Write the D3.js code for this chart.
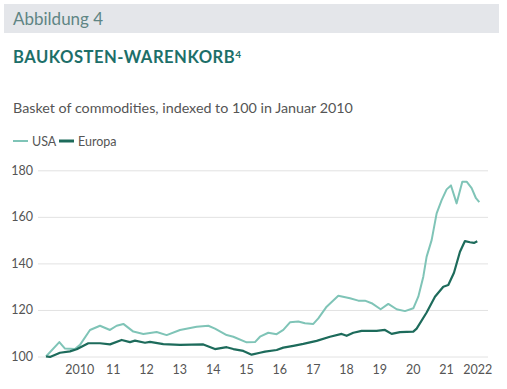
<!DOCTYPE html>
<html>
<head>
<meta charset="utf-8">
<script src="https://cdn.jsdelivr.net/npm/d3@7"></script>
<style>
  body { margin: 0; background: #fff; font-family: Lato, "Open Sans", sans-serif; }
</style>
</head>
<body>
<script>
// Werte (x = Jahresposition, y = Index)
var usaYears = [2009.00, 2009.40, 2009.57, 2009.87, 2010.02, 2010.32, 2010.62, 2010.92, 2011.12, 2011.32,
  2011.62, 2011.92, 2012.32, 2012.62, 2013.02, 2013.52, 2013.87, 2014.07, 2014.42, 2014.62,
  2015.02, 2015.27, 2015.42, 2015.67, 2015.92, 2016.12, 2016.32, 2016.57, 2016.77, 2017.02,
  2017.17, 2017.42, 2017.77, 2018.12, 2018.37, 2018.57, 2018.77, 2019.04, 2019.27, 2019.52,
  2019.77, 2020.02, 2020.17, 2020.32, 2020.42, 2020.57, 2020.72, 2020.87, 2021.02, 2021.15,
  2021.32, 2021.49, 2021.62, 2021.77, 2021.90, 2022.00];
var usaValues = [100, 106.2, 103.4, 103.2, 105, 111.4, 113.2, 111.4, 113.2, 114,
  110.7, 109.7, 110.5, 109.2, 111.4, 112.8, 113.2, 112, 109.2, 108.5,
  106.1, 106.2, 108.5, 110.2, 109.6, 111.4, 114.7, 115, 114.3, 114,
  116.4, 121.4, 126.1, 125, 124, 124, 122.9, 120.3, 122.6, 120.3,
  119.5, 120.7, 125.7, 134.3, 142.9, 150, 161.5, 167.2, 171.8, 173.5,
  165.8, 175.1, 175.1, 172.3, 168, 166.3];

var euYears = [2009.00, 2009.12, 2009.42, 2009.72, 2009.92, 2010.27, 2010.62, 2010.92, 2011.27, 2011.52,
  2011.67, 2011.97, 2012.12, 2012.52, 2013.02, 2013.72, 2014.07, 2014.42, 2014.62, 2014.92,
  2015.17, 2015.42, 2015.57, 2015.92, 2016.12, 2016.42, 2016.72, 2017.12, 2017.52, 2017.87,
  2018.02, 2018.22, 2018.47, 2018.92, 2019.17, 2019.37, 2019.62, 2020.02, 2020.12, 2020.42,
  2020.67, 2020.92, 2021.07, 2021.24, 2021.42, 2021.57, 2021.72, 2021.84, 2021.94];
var euValues = [100, 99.8, 101.6, 102.2, 103.1, 105.7, 105.7, 105.2, 107.1, 106.2,
  106.8, 105.9, 106.3, 105.3, 105, 105.2, 103.2, 104, 103.2, 102.4,
  100.8, 101.6, 102.1, 102.8, 103.8, 104.6, 105.4, 106.7, 108.5, 109.7,
  108.9, 110.2, 111, 111, 111.4, 109.7, 110.5, 110.7, 112, 118.9,
  125.7, 130, 130.7, 136, 145, 149.6, 149.1, 148.8, 149.5];

var tickYears = [2010, 2011, 2012, 2013, 2014, 2015, 2016, 2017, 2018, 2019, 2020, 2021, 2022];
var tickLabels = ["2010", "11", "12", "13", "14", "15", "16", "17", "18", "19", "20", "21", "2022"];
var yTicks = [100, 120, 140, 160, 180];

var W = 507, H = 389;
var usaColor = "#7fc4b7", euColor = "#1d6b5b";

var svg = d3.select("body").append("svg")
  .attr("width", W)
  .attr("height", H);

// Kopfzeile
svg.append("rect")
  .attr("x", 4).attr("y", 4)
  .attr("width", 495).attr("height", 29)
  .attr("fill", "#e4e6ea");
svg.append("text")
  .attr("x", 13).attr("y", 25)
  .attr("font-size", "17px")
  .attr("fill", "#5f8584")
  .text("Abbildung 4");

svg.append("text")
  .attr("x", 13).attr("y", 63)
  .attr("font-size", "16.6px")
  .attr("font-weight", "bold")
  .attr("letter-spacing", "0.5px")
  .attr("fill", "#1d6f69")
  .text("BAUKOSTEN-WARENKORB")
  .append("tspan")
  .attr("dy", -5)
  .attr("font-size", "10px")
  .text("4");

svg.append("text")
  .attr("x", 13).attr("y", 113)
  .attr("font-size", "14.3px")
  .attr("fill", "#555")
  .text("Basket of commodities, indexed to 100 in Januar 2010");

// Legende
var legend = [{name: "USA", color: usaColor, x: 13, w: 2}, {name: "Europa", color: euColor, x: 59, w: 3}];
var lg = svg.selectAll(".lg").data(legend).enter().append("g").attr("class", "lg");
lg.append("line")
  .attr("x1", function (d) { return d.x; })
  .attr("x2", function (d) { return d.x + 15; })
  .attr("y1", 141).attr("y2", 141)
  .attr("stroke", function (d) { return d.color; })
  .attr("stroke-width", function (d) { return d.w; });
lg.append("text")
  .attr("x", function (d) { return d.x + 19; })
  .attr("y", 145.5)
  .attr("font-size", "12.5px")
  .attr("fill", "#555")
  .text(function (d) { return d.name; });

// Skalen
var x = d3.scaleLinear().domain([2009, 2022]).range([46, 479.3]);
var y = d3.scaleLinear().domain([100, 180]).range([356.5, 170.3]);

// Gitterlinien
svg.append("g")
  .attr("transform", "translate(38,0)")
  .call(d3.axisLeft(y).tickValues(yTicks).tickSize(-450).tickPadding(5))
  .call(function (g) {
    g.select(".domain").remove();
    g.selectAll(".tick line").attr("stroke", "#e2e2e2");
    g.selectAll(".tick text").attr("font-size", "12.5px").attr("fill", "#555")
      .attr("font-family", "Lato, sans-serif");
  });

// x-Achse
svg.append("g")
  .attr("transform", "translate(0,356.5)")
  .call(d3.axisBottom(x).tickValues(tickYears).tickSize(0).tickPadding(9)
    .tickFormat(function (d, i) { return tickLabels[i]; }))
  .call(function (g) {
    g.select(".domain").remove();
    g.selectAll(".tick text").attr("font-size", "12.5px").attr("fill", "#555")
      .attr("font-family", "Lato, sans-serif");
    g.selectAll(".tick text").filter(function (d) { return d === 2022; }).attr("dx", -2);
  });

// Linien
var usaData = usaYears.map(function (t, i) { return [t, usaValues[i]]; });
var euData = euYears.map(function (t, i) { return [t, euValues[i]]; });
var line = d3.line()
  .x(function (d) { return x(d[0]); })
  .y(function (d) { return y(d[1]); });

svg.append("path")
  .datum(usaData)
  .attr("d", line)
  .attr("fill", "none")
  .attr("stroke", usaColor)
  .attr("stroke-width", 2)
  .attr("stroke-linejoin", "round");

svg.append("path")
  .datum(euData)
  .attr("d", line)
  .attr("fill", "none")
  .attr("stroke", euColor)
  .attr("stroke-width", 2.2)
  .attr("stroke-linejoin", "round");
</script>
</body>
</html>
